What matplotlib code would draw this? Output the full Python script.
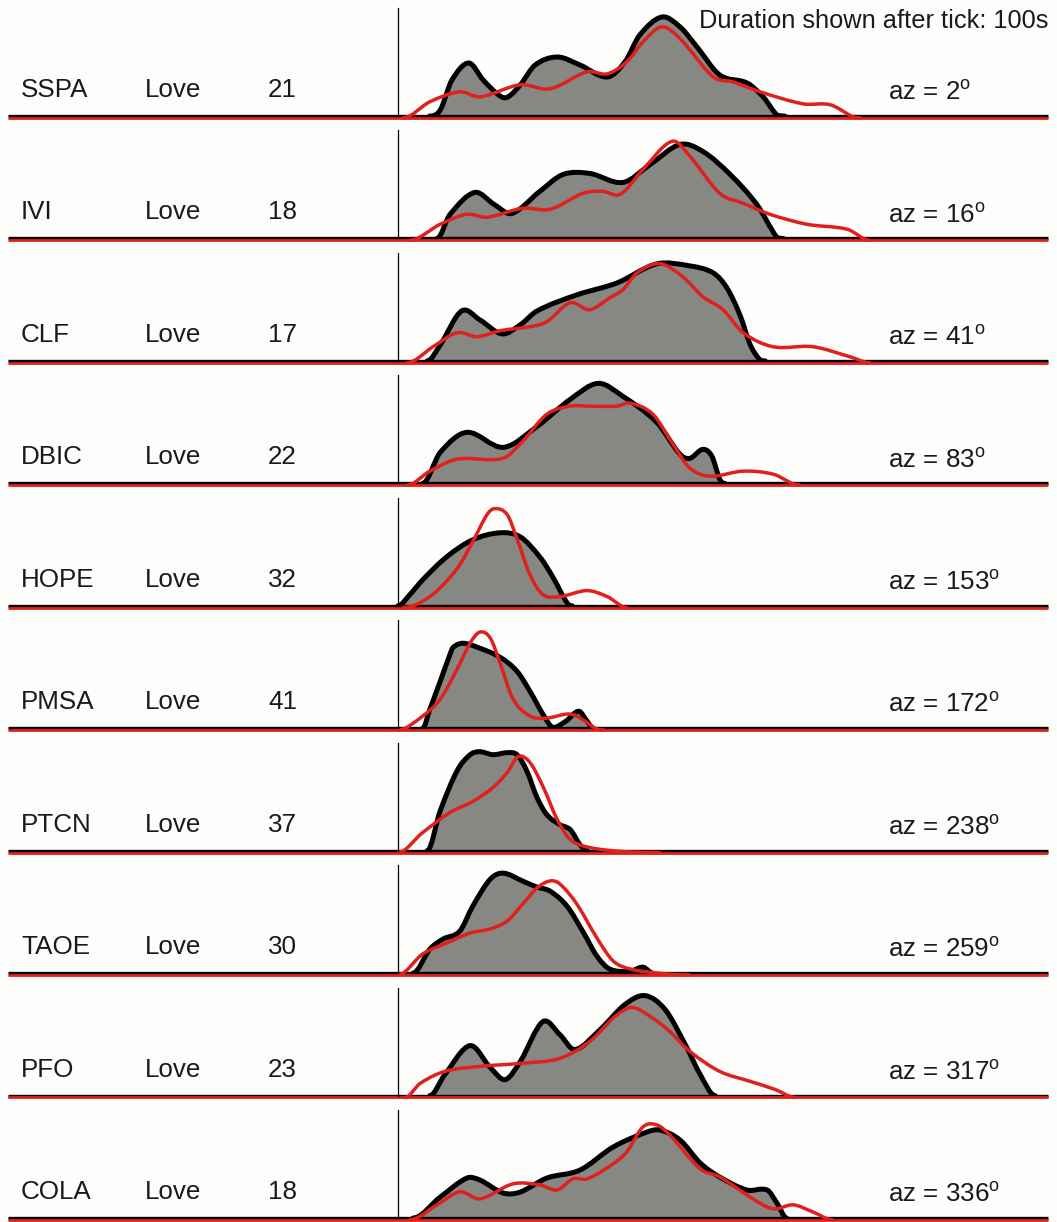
import numpy as np
import matplotlib
matplotlib.use("Agg")
import matplotlib.pyplot as plt
from matplotlib.path import Path
from matplotlib.patches import PathPatch

plt.rcParams['font.family'] = ['Liberation Sans', 'DejaVu Sans']
plt.rcParams['mathtext.fontset'] = 'custom'
plt.rcParams['mathtext.rm'] = 'Liberation Sans'
plt.rcParams['mathtext.it'] = 'Liberation Sans:italic'

# ---------------- data ----------------
stations = ['SSPA', 'IVI', 'CLF', 'DBIC', 'HOPE', 'PMSA', 'PTCN', 'TAOE', 'PFO', 'COLA']
wave_types = ['Love'] * 10
counts = [21, 18, 17, 22, 32, 41, 37, 30, 23, 18]
azimuths = [2, 16, 41, 83, 153, 172, 238, 259, 317, 336]
duration_s = 100

# observed (black, filled) and predicted (red) normalized envelopes: time (s) after tick, amplitude
SSPA_obs_t = [4.9, 6.5, 8.3, 10.9, 13.1, 15.7, 16.9, 18.8, 21.1, 24.5, 28.0, 32.2, 34.9, 37.2, 40.6, 43.4, 46.0, 49.5, 53.7, 56.2, 58.3, 59.5]
SSPA_obs_a = [0, 0.06, 0.36, 0.53, 0.36, 0.20, 0.19, 0.31, 0.51, 0.59, 0.51, 0.39, 0.54, 0.81, 0.99, 0.89, 0.69, 0.41, 0.33, 0.19, 0.01, 0]
SSPA_syn_t = [0.8, 4.9, 9.5, 12.6, 18.8, 23.4, 29.1, 32.2, 35.2, 37.7, 40.6, 43.4, 48.5, 51.5, 55.7, 62.3, 66.5, 70.0, 71.1]
SSPA_syn_a = [0, 0.16, 0.26, 0.21, 0.33, 0.29, 0.46, 0.44, 0.56, 0.76, 0.91, 0.79, 0.41, 0.36, 0.26, 0.14, 0.13, 0.01, 0]

IVI_obs_t = [6.0, 8.0, 11.8, 14.8, 17.5, 21.8, 25.4, 29.5, 34.6, 38.8, 43.4, 46.9, 51.1, 55.2, 58.3, 59.3]
IVI_obs_a = [0, 0.24, 0.46, 0.34, 0.25, 0.47, 0.64, 0.65, 0.56, 0.74, 0.94, 0.87, 0.64, 0.34, 0.01, 0]
IVI_syn_t = [1.8, 6.5, 10.6, 13.7, 19.2, 23.4, 28.5, 31.5, 34.2, 37.7, 42.2, 44.9, 49.5, 53.1, 57.2, 62.9, 69.1, 72.6]
IVI_syn_a = [0, 0.16, 0.26, 0.23, 0.32, 0.31, 0.47, 0.49, 0.46, 0.71, 0.99, 0.84, 0.47, 0.37, 0.26, 0.16, 0.11, 0]

CLF_obs_t = [4.5, 6.5, 9.8, 12.6, 16.0, 18.8, 21.4, 27.5, 33.7, 39.8, 44.9, 48.5, 50.6, 52.6, 54.2, 55.7, 56.5]
CLF_obs_a = [0, 0.16, 0.50, 0.41, 0.27, 0.36, 0.50, 0.66, 0.78, 0.97, 0.95, 0.88, 0.73, 0.46, 0.16, 0.01, 0]
CLF_syn_t = [1.4, 5.4, 9.1, 12.2, 15.7, 20.3, 22.9, 26.5, 29.5, 32.6, 34.6, 36.8, 40.3, 43.8, 46.9, 50.0, 53.1, 57.7, 63.8, 69.5, 72.6]
CLF_syn_a = [0, 0.16, 0.30, 0.26, 0.32, 0.36, 0.41, 0.60, 0.53, 0.65, 0.73, 0.90, 0.99, 0.86, 0.66, 0.53, 0.30, 0.16, 0.16, 0.06, 0]

DBIC_obs_t = [3.8, 6.5, 10.6, 16.2, 21.4, 26.5, 30.8, 34.6, 39.8, 43.4, 44.9, 46.9, 48.3, 49.5, 50.3]
DBIC_obs_a = [0, 0.31, 0.51, 0.36, 0.57, 0.84, 1.00, 0.87, 0.61, 0.29, 0.25, 0.34, 0.27, 0.04, 0]
DBIC_syn_t = [1.4, 4.9, 9.1, 16.2, 19.2, 22.9, 26.5, 29.5, 33.7, 35.7, 39.2, 42.3, 44.9, 48.0, 53.1, 57.7, 61.8]
DBIC_syn_a = [0, 0.14, 0.26, 0.27, 0.44, 0.71, 0.79, 0.79, 0.79, 0.82, 0.71, 0.41, 0.17, 0.09, 0.14, 0.11, 0]

HOPE_obs_t = [0.0, 1.8, 3.8, 7.5, 11.5, 15.7, 18.8, 21.8, 23.8, 26.0, 26.8]
HOPE_obs_a = [0, 0.11, 0.26, 0.49, 0.66, 0.73, 0.69, 0.49, 0.29, 0.03, 0]
HOPE_syn_t = [0.8, 4.9, 9.1, 11.5, 13.7, 14.9, 16.8, 18.3, 20.3, 22.3, 24.9, 29.1, 32.2, 35.2]
HOPE_syn_a = [0, 0.11, 0.39, 0.66, 0.93, 0.99, 0.93, 0.69, 0.33, 0.13, 0.11, 0.17, 0.11, 0]

PMSA_obs_t = [3.8, 4.9, 6.5, 8.0, 8.5, 10.0, 12.2, 15.7, 18.3, 20.3, 22.3, 23.8, 25.8, 27.8, 29.1, 30.0]
PMSA_obs_a = [0, 0.19, 0.47, 0.74, 0.81, 0.85, 0.81, 0.71, 0.57, 0.37, 0.14, 0.01, 0.07, 0.17, 0.07, 0]
PMSA_syn_t = [0.0, 3.8, 6.5, 9.1, 11.1, 12.6, 14.2, 15.7, 17.7, 20.3, 22.9, 26.0, 27.5, 30.6, 31.8]
PMSA_syn_a = [0, 0.14, 0.31, 0.61, 0.87, 0.98, 0.92, 0.67, 0.31, 0.14, 0.12, 0.16, 0.14, 0.01, 0]

PTCN_obs_t = [4.5, 6.5, 9.1, 11.1, 12.6, 14.6, 16.8, 18.3, 19.8, 21.4, 22.9, 24.9, 26.5, 28.0, 29.1]
PTCN_obs_a = [0, 0.40, 0.80, 0.96, 0.99, 0.96, 0.98, 0.96, 0.80, 0.53, 0.36, 0.26, 0.21, 0.06, 0]
PTCN_syn_t = [0.0, 3.8, 8.0, 11.5, 14.6, 16.8, 18.5, 20.3, 22.3, 24.5, 26.5, 29.5, 34.6, 40.3]
PTCN_syn_a = [0, 0.20, 0.40, 0.51, 0.65, 0.80, 0.96, 0.90, 0.66, 0.33, 0.13, 0.05, 0.01, 0]

TAOE_obs_t = [2.3, 4.9, 6.9, 9.5, 11.5, 14.2, 16.2, 19.2, 21.4, 23.4, 26.0, 28.5, 30.6, 32.6, 35.7, 37.7, 39.2]
TAOE_obs_a = [0, 0.24, 0.34, 0.42, 0.67, 0.94, 1.00, 0.92, 0.86, 0.82, 0.67, 0.41, 0.17, 0.04, 0.02, 0.06, 0]
TAOE_syn_t = [0.0, 3.8, 7.5, 11.1, 14.2, 16.8, 19.2, 21.4, 23.4, 24.9, 27.5, 30.6, 33.1, 35.7, 39.8, 44.9]
TAOE_syn_a = [0, 0.21, 0.32, 0.42, 0.46, 0.54, 0.71, 0.87, 0.94, 0.91, 0.71, 0.37, 0.14, 0.06, 0.02, 0]

PFO_obs_t = [4.9, 7.2, 11.1, 14.2, 16.5, 18.8, 22.3, 24.9, 27.2, 31.1, 34.9, 38.0, 41.1, 44.2, 46.5, 48.8]
PFO_obs_a = [0, 0.21, 0.50, 0.28, 0.16, 0.34, 0.74, 0.61, 0.46, 0.66, 0.91, 1.00, 0.86, 0.51, 0.21, 0]
PFO_syn_t = [1.1, 3.4, 7.2, 12.6, 18.8, 24.9, 29.5, 33.4, 36.0, 38.8, 41.8, 44.9, 49.5, 54.2, 58.0, 61.1]
PFO_syn_a = [0, 0.14, 0.26, 0.31, 0.34, 0.39, 0.56, 0.81, 0.90, 0.81, 0.66, 0.46, 0.26, 0.16, 0.08, 0]

COLA_obs_t = [2.3, 6.5, 10.6, 12.6, 16.2, 18.8, 22.9, 28.0, 33.1, 38.3, 40.3, 43.4, 46.5, 49.5, 53.7, 56.8, 58.3, 59.8]
COLA_obs_a = [0, 0.21, 0.40, 0.38, 0.25, 0.26, 0.40, 0.48, 0.71, 0.86, 0.88, 0.78, 0.55, 0.41, 0.28, 0.28, 0.15, 0]
COLA_syn_t = [1.8, 6.0, 9.5, 12.6, 17.7, 21.8, 24.5, 26.9, 29.1, 33.1, 35.2, 37.7, 39.8, 41.8, 46.5, 49.5, 54.6, 57.7, 60.8, 63.8, 66.9]
COLA_syn_a = [0, 0.15, 0.28, 0.21, 0.36, 0.35, 0.30, 0.41, 0.41, 0.56, 0.68, 0.93, 0.95, 0.85, 0.51, 0.43, 0.21, 0.11, 0.15, 0.08, 0]

obs_t = [SSPA_obs_t, IVI_obs_t, CLF_obs_t, DBIC_obs_t, HOPE_obs_t, PMSA_obs_t, PTCN_obs_t, TAOE_obs_t, PFO_obs_t, COLA_obs_t]
obs_a = [SSPA_obs_a, IVI_obs_a, CLF_obs_a, DBIC_obs_a, HOPE_obs_a, PMSA_obs_a, PTCN_obs_a, TAOE_obs_a, PFO_obs_a, COLA_obs_a]
syn_t = [SSPA_syn_t, IVI_syn_t, CLF_syn_t, DBIC_syn_t, HOPE_syn_t, PMSA_syn_t, PTCN_syn_t, TAOE_syn_t, PFO_syn_t, COLA_syn_t]
syn_a = [SSPA_syn_a, IVI_syn_a, CLF_syn_a, DBIC_syn_a, HOPE_syn_a, PMSA_syn_a, PTCN_syn_a, TAOE_syn_a, PFO_syn_a, COLA_syn_a]

# ---------------- drawing ----------------
W, H, DPI = 1057, 1222, 100
BG = '#fdfdfb'
FILL = '#878884'
RED = '#e0201c'
PX_PER_S = 6.5
TICK_PX = 398.0

fig = plt.figure(figsize=(W / DPI, H / DPI), dpi=DPI, facecolor=BG)
ax = fig.add_axes([0, 0, 1, 1])
ax.set_facecolor(BG)
ax.set_xlim(-TICK_PX / PX_PER_S, (W - TICK_PX) / PX_PER_S)
ax.set_ylim(0, H / 100.0)
ax.axis('off')


def smooth_path(t, a, base):
    """Cubic Bezier path through the read points (centred-difference tangents)."""
    x = np.asarray(t, float)
    y = np.asarray(a, float)
    n = len(x)
    h = np.diff(x)
    m = np.zeros(n)
    for k in range(1, n - 1):
        m[k] = (y[k + 1] - y[k - 1]) / (x[k + 1] - x[k - 1])
    verts = [(x[0], base + y[0])]
    codes = [Path.MOVETO]
    for k in range(n - 1):
        c1y = max(y[k] + m[k] * h[k] / 3.0, 0.0)
        c2y = max(y[k + 1] - m[k + 1] * h[k] / 3.0, 0.0)
        verts += [(x[k] + h[k] / 3.0, base + c1y),
                  (x[k + 1] - h[k] / 3.0, base + c2y),
                  (x[k + 1], base + y[k + 1])]
        codes += [Path.CURVE4] * 3
    return verts, codes


x_left, x_right = -60.0, 100.0
txt_kw = dict(fontsize=18.7, color='#1a1a1a', va='baseline')

for i, st in enumerate(stations):
    base_px = 116.0 + 122.45 * i
    base = (H - base_px) / 100.0
    red_base = base - 0.018

    # observed envelope: gray fill with black outline
    v, c = smooth_path(obs_t[i], obs_a[i], base)
    fv = v + [(obs_t[i][-1], base), (obs_t[i][0], base), (obs_t[i][0], base)]
    fc = c + [Path.LINETO, Path.LINETO, Path.CLOSEPOLY]
    ax.add_patch(PathPatch(Path(fv, fc), facecolor=FILL, edgecolor='none', zorder=1))
    ax.plot([x_left, x_right], [base, base], color='black', lw=2.4, zorder=2,
            solid_capstyle='butt')
    ax.add_patch(PathPatch(Path(v, c), facecolor='none', edgecolor='black', lw=3.6,
                           joinstyle='round', capstyle='round', zorder=3))

    # predicted envelope: red line
    ax.plot([x_left, x_right], [red_base, red_base], color=RED, lw=2.0, zorder=4,
            solid_capstyle='butt')
    v2, c2 = smooth_path(syn_t[i], syn_a[i], red_base)
    ax.add_patch(PathPatch(Path(v2, c2), facecolor='none', edgecolor=RED, lw=2.5,
                           joinstyle='round', capstyle='round', zorder=5))

    # time tick
    ax.plot([0, 0], [base, base + 1.08], color='black', lw=0.9, zorder=6)

    # labels
    ty = base + 0.19
    ax.text((21 - TICK_PX) / PX_PER_S, ty, st, ha='left', **txt_kw)
    ax.text((145 - TICK_PX) / PX_PER_S, ty, wave_types[i], ha='left', **txt_kw)
    ax.text((268 - TICK_PX) / PX_PER_S, ty, str(counts[i]), ha='left', **txt_kw)
    ax.text((888 - TICK_PX) / PX_PER_S, base + 0.16,
            'az = %d$^{\\mathrm{o}}$' % azimuths[i], ha='left', **txt_kw)

ax.text(x_right, (H - 28) / 100.0, 'Duration shown after tick: %ds' % duration_s,
        ha='right', fontsize=18.3, color='#1a1a1a', va='baseline', zorder=10)

fig.savefig('out.png', dpi=DPI, facecolor=BG)
